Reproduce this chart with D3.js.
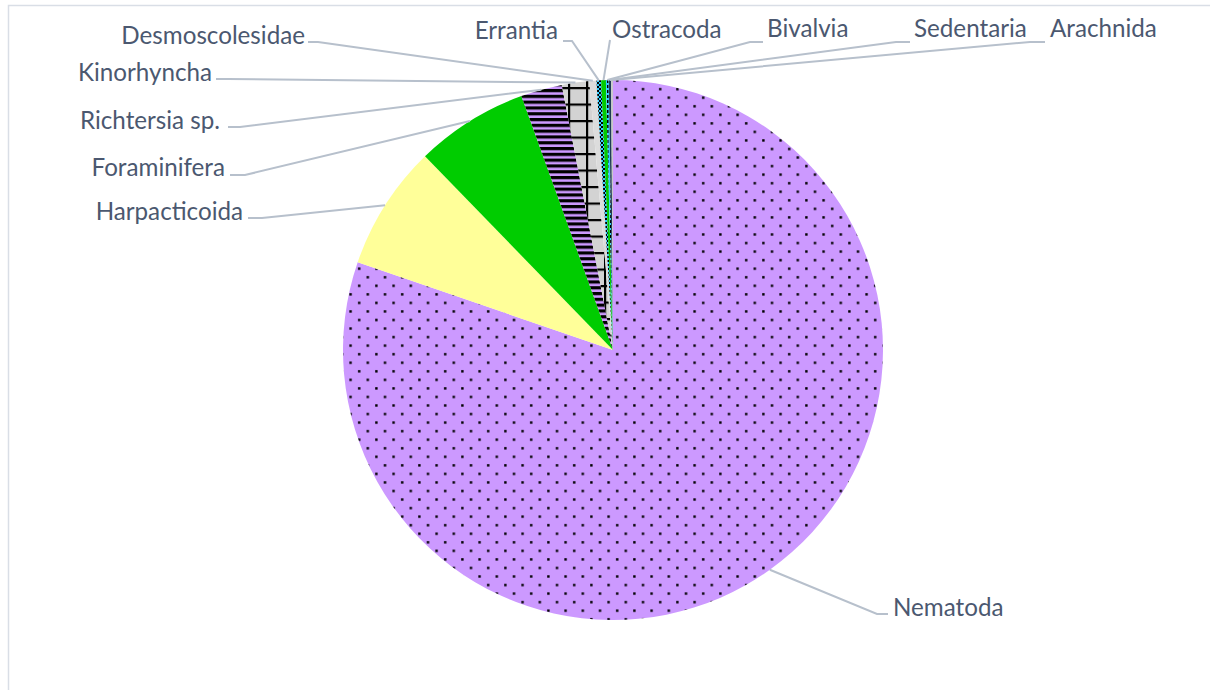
<!DOCTYPE html>
<html lang="en">
<head>
<meta charset="utf-8">
<title>Meiofauna composition</title>
<script src="https://cdn.jsdelivr.net/npm/d3@7"></script>
<style>
  body { margin: 0; background: #ffffff; }
  svg { display: block; }
  .lbl { font-family: Lato, "Open Sans", sans-serif; font-size: 24.2px; fill: #4b5870; }
  .leader { fill: none; stroke: #b7c0cc; stroke-width: 2; }
</style>
</head>
<body>
<script>
// data (share of total, %)
var taxa = ["Nematoda", "Harpacticoida", "Foraminifera", "Richtersia sp.", "Kinorhyncha",
            "Desmoscolesidae", "Errantia", "Ostracoda", "Bivalvia", "Sedentaria", "Arachnida"];
var shares = [80.28, 7.47, 6.75, 2.47, 1.64, 0.42, 0.28, 0.28, 0.17, 0.14, 0.11];

// fill for each slice (colour or pattern id)
var fills = ["url(#pNema)", "#ffff99", "#00cc00", "url(#pRich)", "url(#pKino)",
             "#dcdcdc", "url(#pErr)", "#00cc00", "url(#pBiv)", "#1f3b57", "#c8c8c8"];

// label layout: text position, leader start and elbow
var labelLayout = {
  "Nematoda":        {x: 893, y: 616, anchor: "start", lx: 888, ly: 614, ex: 877},
  "Harpacticoida":   {x: 243, y: 220, anchor: "end",   lx: 248, ly: 218, ex: 262},
  "Foraminifera":    {x: 225, y: 176, anchor: "end",   lx: 230, ly: 175, ex: 245},
  "Richtersia sp.":  {x: 220, y: 129, anchor: "end",   lx: 228, ly: 127, ex: 240},
  "Kinorhyncha":     {x: 212, y: 81,  anchor: "end",   lx: 216, ly: 79,  ex: 228},
  "Desmoscolesidae": {x: 305, y: 44,  anchor: "end",   lx: 308, ly: 42,  ex: 318},
  "Errantia":        {x: 558, y: 39,  anchor: "end",   lx: 563, ly: 41,  ex: 572},
  "Ostracoda":       {x: 612, y: 38,  anchor: "start", lx: 610, ly: 40,  ex: 610},
  "Bivalvia":        {x: 767, y: 37,  anchor: "start", lx: 763, ly: 42,  ex: 750},
  "Sedentaria":      {x: 914, y: 37,  anchor: "start", lx: 910, ly: 42,  ex: 896},
  "Arachnida":       {x: 1050, y: 37, anchor: "start", lx: 1045, ly: 42, ex: 1030}
};

var w = 1210, h = 690;
var cx = 613, cy = 350, r = 270;

var svg = d3.select("body").append("svg")
    .attr("width", w)
    .attr("height", h);

// patterns
var defs = svg.append("defs");

var pNema = defs.append("pattern").attr("id", "pNema")
    .attr("patternUnits", "userSpaceOnUse").attr("width", 17.2).attr("height", 17.1);
pNema.append("rect").attr("width", 17.2).attr("height", 17.1).attr("fill", "#cc99ff");
pNema.append("rect").attr("x", 3).attr("y", 3).attr("width", 2.4).attr("height", 2.4).attr("fill", "#000");
pNema.append("rect").attr("x", 11.6).attr("y", 11.55).attr("width", 2.4).attr("height", 2.4).attr("fill", "#000");

var pRich = defs.append("pattern").attr("id", "pRich")
    .attr("patternUnits", "userSpaceOnUse").attr("width", 8).attr("height", 5.8);
pRich.append("rect").attr("width", 8).attr("height", 5.8).attr("fill", "#cc99ff");
pRich.append("rect").attr("y", 0).attr("width", 8).attr("height", 3.2).attr("fill", "#000");

var pKino = defs.append("pattern").attr("id", "pKino")
    .attr("patternUnits", "userSpaceOnUse").attr("width", 18).attr("height", 16.5)
    .attr("x", 9).attr("y", 1);
pKino.append("rect").attr("width", 18).attr("height", 16.5).attr("fill", "#d3d3d3");
pKino.append("rect").attr("x", 0).attr("width", 2.2).attr("height", 16.5).attr("fill", "#000");
pKino.append("rect").attr("y", 0).attr("width", 18).attr("height", 2.2).attr("fill", "#000");

var pErr = defs.append("pattern").attr("id", "pErr")
    .attr("patternUnits", "userSpaceOnUse").attr("width", 4).attr("height", 4);
pErr.append("rect").attr("width", 4).attr("height", 4).attr("fill", "#33ccff");
pErr.append("rect").attr("width", 2).attr("height", 2).attr("fill", "#000");
pErr.append("rect").attr("x", 2).attr("y", 2).attr("width", 2).attr("height", 2).attr("fill", "#000");

var pBiv = defs.append("pattern").attr("id", "pBiv")
    .attr("patternUnits", "userSpaceOnUse").attr("width", 3).attr("height", 5);
pBiv.append("rect").attr("width", 3).attr("height", 5).attr("fill", "#33ccff");
pBiv.append("rect").attr("width", 1.5).attr("height", 3).attr("fill", "#000");

// chart frame (only left and top edges visible)
svg.append("path")
    .attr("d", "M8.5," + h + "V5.5H" + w)
    .attr("fill", "none")
    .attr("stroke", "#d9dee6")
    .attr("stroke-width", 1.5);

var pie = d3.pie().sort(null).value(function(d) { return d; });
var arcs = pie(shares);

var arc = d3.arc().innerRadius(0).outerRadius(r);
var rim = d3.arc().innerRadius(r).outerRadius(r);

var g = svg.append("g").attr("transform", "translate(" + cx + "," + cy + ")");

g.selectAll("path.slice")
    .data(arcs)
    .enter()
    .append("path")
    .attr("class", "slice")
    .attr("d", arc)
    .attr("fill", function(d, i) { return fills[i]; });

// leader lines
svg.selectAll("polyline.leader")
    .data(arcs)
    .enter()
    .append("polyline")
    .attr("class", "leader")
    .attr("points", function(d, i) {
      var L = labelLayout[taxa[i]];
      var p = rim.centroid(d);
      return [[L.lx, L.ly], [L.ex, L.ly], [p[0] + cx, p[1] + cy]].join(" ");
    });

// labels
svg.selectAll("text.lbl")
    .data(taxa)
    .enter()
    .append("text")
    .attr("class", "lbl")
    .attr("x", function(d) { return labelLayout[d].x; })
    .attr("y", function(d) { return labelLayout[d].y; })
    .attr("text-anchor", function(d) { return labelLayout[d].anchor; })
    .text(function(d) { return d; });
</script>
</body>
</html>
